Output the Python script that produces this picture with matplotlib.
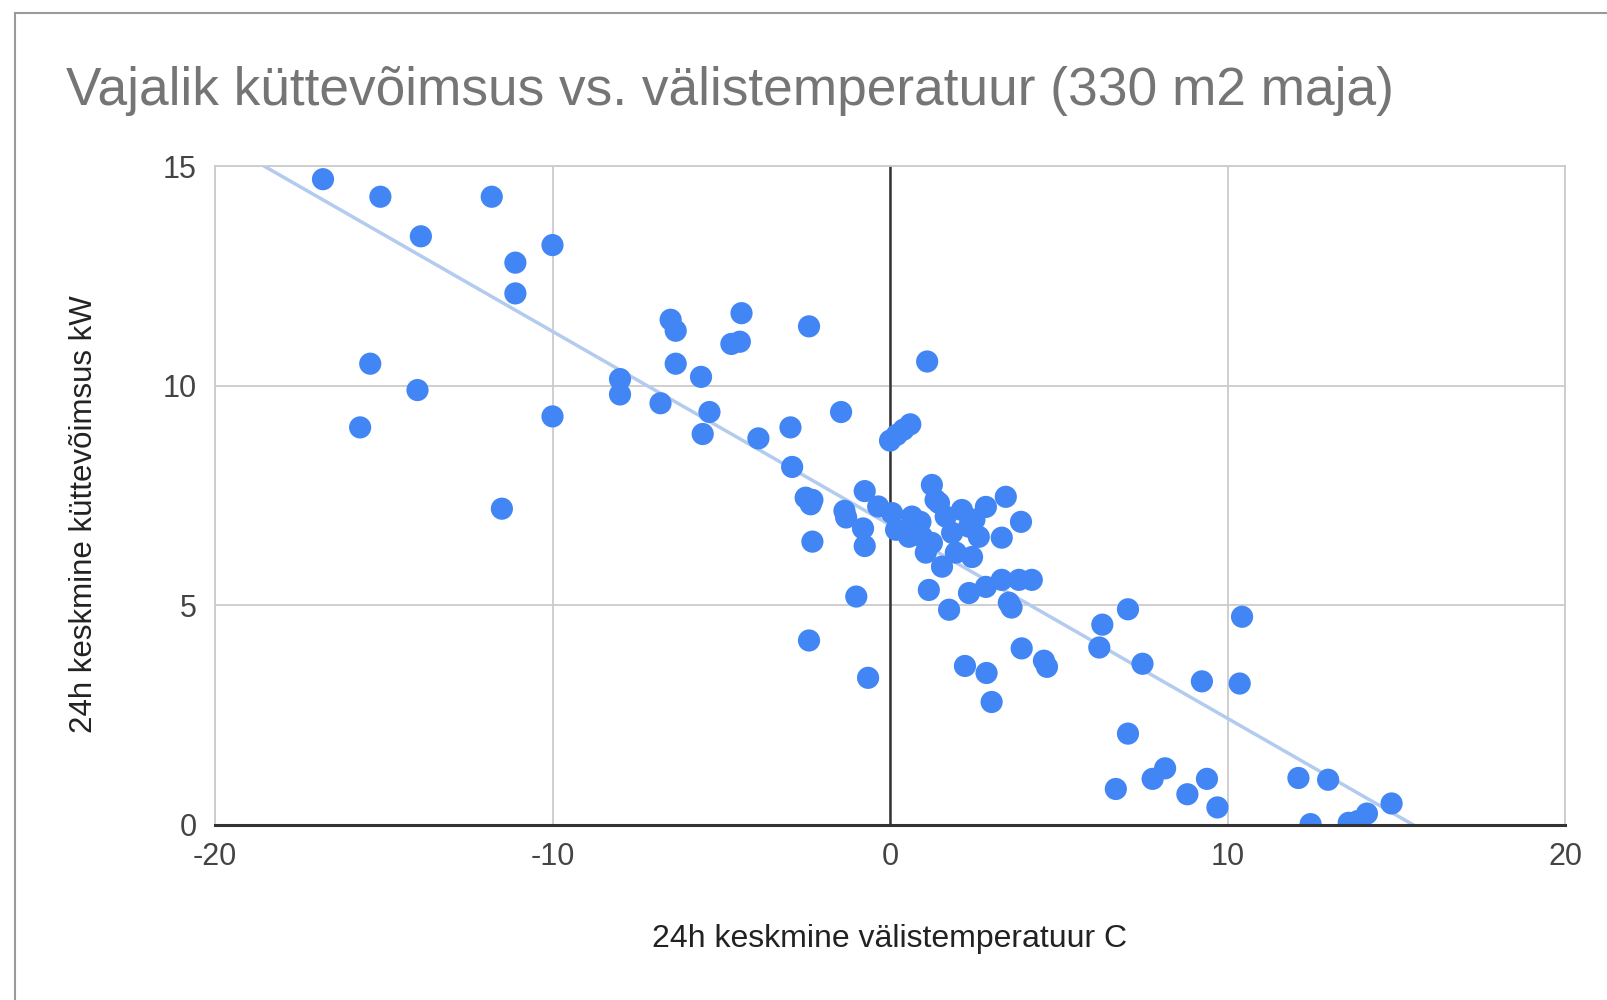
import numpy as np
import matplotlib
matplotlib.use("Agg")
import matplotlib.pyplot as plt
from matplotlib.lines import Line2D

plt.rcParams['font.family'] = ['Liberation Sans', 'DejaVu Sans']
plt.rcParams['axes.unicode_minus'] = False

# 24h mean outdoor temperature (C)
temp_c = [
    -16.8, -15.1, -11.8, -13.9, -11.1, -10.0, -11.1, -15.4, -14.0, -15.7,
    -11.5, -10.0, -8.0, -8.0, -6.8, -6.5, -6.35, -6.35, -5.6, -5.35,
    -5.55, -4.7, -4.45, -4.4, -3.9, -2.95, -2.9, -2.4, -2.5, -2.3,
    -2.35, -2.3, -2.4, -1.45, -1.35, -1.3, -0.75, -0.8, -0.75, -1.0,
    -0.65, -0.35,
    0.0, 0.2, 0.4, 0.6, 1.1,
    1.24, 3.43, 3.88, 3.31, 2.84, 0.06, 0.18, 0.65, 0.95, 1.06,
    1.45, 1.65, 1.84, 1.95, 2.34, 2.43, 2.13, 2.63, 1.54, 1.24,
    0.56, 1.15, 1.75, 2.34, 2.84, 3.31, 3.82, 4.2, 3.52, 3.6,
    1.35, 0.9, 2.5,
    2.22, 2.86, 3.01, 3.9, 4.56, 4.65, 6.2, 6.29, 7.05, 7.48,
    6.69, 7.05, 7.78, 8.15, 8.81, 9.24, 9.39, 9.7, 10.36, 10.43,
    12.1, 12.46, 12.98, 13.59, 13.86, 14.13, 14.86,
]

# 24h mean heating power (kW)
power_kw = [
    14.7, 14.3, 14.3, 13.4, 12.8, 13.2, 12.1, 10.5, 9.9, 9.05,
    7.2, 9.3, 10.15, 9.8, 9.6, 11.5, 11.25, 10.5, 10.2, 9.4,
    8.9, 10.95, 11.0, 11.65, 8.8, 9.05, 8.15, 11.35, 7.45, 7.4,
    7.3, 6.45, 4.2, 9.4, 7.15, 7.0, 7.6, 6.75, 6.35, 5.2,
    3.35, 7.25,
    8.75, 8.88, 9.0, 9.12, 10.55,
    7.74, 7.47, 6.9, 6.54, 7.24, 7.1, 6.72, 7.02, 6.56, 6.2,
    7.33, 7.02, 6.65, 6.2, 6.79, 6.1, 7.17, 6.56, 5.88, 6.42,
    6.56, 5.35, 4.9, 5.28, 5.42, 5.58, 5.58, 5.58, 5.06, 4.95,
    7.4, 6.9, 6.95,
    3.62, 3.46, 2.8, 4.02, 3.74, 3.6, 4.04, 4.56, 4.91, 3.67,
    0.82, 2.08, 1.05, 1.29, 0.7, 3.27, 1.05, 0.4, 3.22, 4.74,
    1.07, 0.02, 1.03, 0.05, 0.09, 0.26, 0.49,
]

x_ticks = [-20, -10, 0, 10, 20]
y_ticks = [0, 5, 10, 15]

title = "Vajalik küttevõimsus vs. välistemperatuur (330 m2 maja)"
x_title = "24h keskmine välistemperatuur C"
y_title = "24h keskmine küttevõimsus kW"

fig = plt.figure(figsize=(16.08, 10), dpi=100)
ax = fig.add_axes([0.1337, 0.175, 0.8396, 0.659])

# outer chart border (left and top visible)
fig.add_artist(Line2D([15 / 1608, 15 / 1608], [0, 1 - 13 / 1000], color="#9a9a9a", lw=1.5))
fig.add_artist(Line2D([15 / 1608, 1], [1 - 13 / 1000, 1 - 13 / 1000], color="#9a9a9a", lw=1.5))

# linear trendline
slope, intercept = np.polyfit(temp_c, power_kw, 1)
tx = np.array([-20, 20])
ax.plot(tx, slope * tx + intercept, color="#b3cbef", lw=2.5, zorder=2)

ax.scatter(temp_c, power_kw, s=255, color="#4285f4", edgecolors="none", zorder=3)

ax.set_xlim(-20, 20)
ax.set_ylim(0, 15)
ax.set_xticks(x_ticks)
ax.set_yticks(y_ticks)
ax.grid(True, color="#cccccc", lw=1.3, zorder=0)
ax.set_axisbelow(True)
ax.axvline(0, color="#333333", lw=1.8, zorder=1)
ax.axhline(0, color="#333333", lw=2.2, zorder=4, clip_on=False)

for side in ["top", "left", "right"]:
    ax.spines[side].set_color("#cccccc")
    ax.spines[side].set_linewidth(1.3)
ax.spines["bottom"].set_visible(False)

ax.tick_params(length=0, labelsize=22, labelcolor="#444444")
ax.tick_params(axis="y", pad=13)
ax.tick_params(axis="x", pad=12)

ax.set_xlabel(x_title, fontsize=23, color="#222222", labelpad=38)
ax.set_ylabel(y_title, fontsize=22.5, color="#222222", labelpad=46, y=0.472)

fig.text(66 / 1608, 1 - 91 / 1000, title, fontsize=38.3, color="#757575", va="center", ha="left")

fig.savefig("out.png", dpi=100, facecolor="white")
